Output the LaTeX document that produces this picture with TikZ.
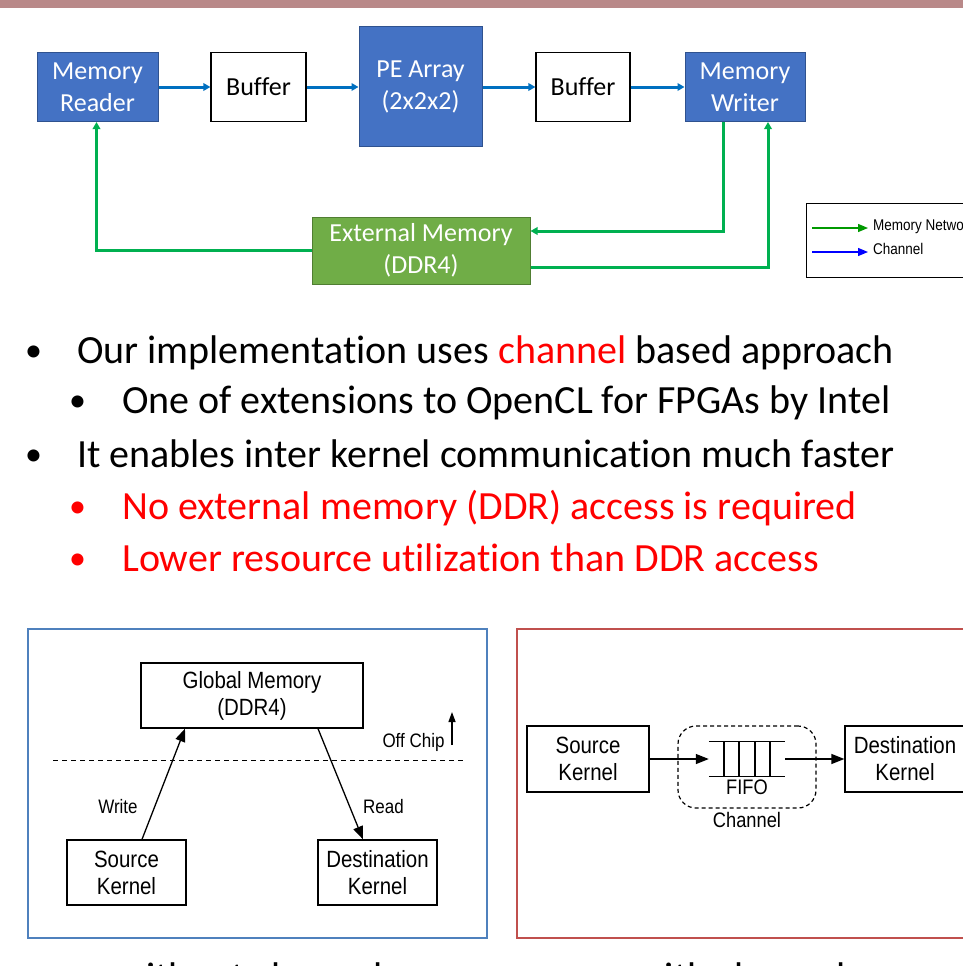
\documentclass[tikz,border=0pt]{standalone}
\usepackage{fontspec}
\setmainfont{Carlito}[Ligatures=NoCommon]
\newfontfamily\dia[FakeStretch=0.87]{Liberation Sans}
\usetikzlibrary{arrows.meta}
\definecolor{barc}{RGB}{185,137,137}
\definecolor{boxblue}{RGB}{68,114,196}
\definecolor{boxblueb}{RGB}{47,82,143}
\definecolor{chblue}{RGB}{0,112,192}
\definecolor{memgreen}{RGB}{0,176,80}
\definecolor{emfill}{RGB}{112,173,71}
\definecolor{emdraw}{RGB}{80,126,50}
\definecolor{leftpanel}{RGB}{79,129,189}
\definecolor{rightpanel}{RGB}{192,80,77}
\definecolor{leggreen}{RGB}{0,153,0}
\definecolor{legblue}{RGB}{0,0,255}
\tikzset{
  topfont/.style={font=\fontsize{26}{32}\selectfont, align=center, inner sep=0pt},
  bluebox/.style={topfont, draw=boxblueb, fill=boxblue, line width=1pt, text=white},
  whitebox/.style={topfont, draw=black, fill=white, line width=1.2pt, text=black},
  greenbox/.style={topfont, draw=emdraw, fill=emfill, line width=1pt, text=white},
  barrow/.style={draw=chblue, line width=3pt, -{Triangle[length=7pt,width=7.5pt]}},
  garrow/.style={draw=memgreen, line width=3pt, -{Triangle[length=7pt,width=7.5pt]}},
  bulletline/.style={anchor=base west, inner sep=0pt, font=\fontsize{40}{48}\selectfont},
  bulletdot/.style={anchor=base west, inner sep=0pt, font=\fontsize{34}{40}\selectfont},
  kbox/.style={draw=black, line width=1.3pt, align=center, inner sep=0pt,
    font=\dia\fontsize{23.5}{27}\selectfont},
  klabel/.style={inner sep=0pt, font=\dia\fontsize{19.5}{23}\selectfont},
  karrow/.style={draw=black, line width=1.3pt, -{Triangle[length=13pt,width=10pt]}},
  legtext/.style={anchor=west, inner sep=0pt, font=\dia\fontsize{15.5}{18}\selectfont},
}
\begin{document}
\begin{tikzpicture}[x=1pt,y=-1pt]
\useasboundingbox (0,0) rectangle (963,966);
\clip (0,0) rectangle (963,966);
\fill[white] (0,0) rectangle (963,966);
\fill[barc] (0,0) rectangle (963,8);

% ---------- top block diagram ----------
\node[bluebox, minimum width=121, minimum height=69] (mr) at (97.5,87) {Memory\\Reader};
\node[whitebox, minimum width=95, minimum height=69] (b1) at (258.5,87) {Buffer};
\node[bluebox, minimum width=123, minimum height=119] (pe) at (420.5,86.5) {PE Array\\(2x2x2)};
\node[whitebox, minimum width=94, minimum height=69] (b2) at (583,87) {Buffer};
\node[bluebox, minimum width=120, minimum height=69] (mw) at (745,87) {Memory\\Writer};
\node[greenbox, minimum width=218, minimum height=67] (em) at (421,250.5) {External Memory\\(DDR4)};

\draw[barrow] (mr.east) -- (b1.west);
\draw[barrow] (b1.east) -- (pe.west |- b1.east);
\draw[barrow] (pe.east |- b2.west) -- (b2.west);
\draw[barrow] (b2.east) -- (mw.west);

\draw[garrow] (em.west) -| ([xshift=-1pt]mr.south);
\draw[garrow] ([xshift=-21.4pt]mw.south) |- ([yshift=19.5pt]em.east);
\draw[garrow] ([yshift=-17pt]em.east) -| ([xshift=23pt]mw.south);

% legend
\draw[line width=1pt] (806,203) rectangle (990,277);
\coordinate (lga) at (812,228);
\coordinate (lgb) at (868,228);
\coordinate (lgc) at (812,252);
\coordinate (lgd) at (868,252);
\draw[leggreen, line width=1.3pt, -{Triangle[length=10pt,width=8pt]}] (lga) -- (lgb);
\draw[legblue, line width=1.3pt, -{Triangle[length=10pt,width=8pt]}] (lgc) -- (lgd);
\node[legtext] (lgt1) at (873,226) {Memory Network};
\node[legtext] (lgt2) at (873,249) {Channel};

% ---------- bullet text ----------
\node[bulletdot] (bu1) at (25,361) {•};
\node[bulletline] (t1) at (77,363) {Our implementation uses \textcolor{red}{channel} based approach};
\node[bulletdot] (bu2) at (69,411) {•};
\node[bulletline] (t2) at (122,413) {One of extensions to OpenCL for FPGAs by Intel};
\node[bulletdot] (bu3) at (25,465) {•};
\node[bulletline] (t3) at (77,467) {It enables inter kernel communication much faster};
\node[bulletdot, text=red] (bu4) at (69,517) {•};
\node[bulletline, text=red] (t4) at (122,519) {No external memory (DDR) access is required};
\node[bulletdot, text=red] (bu5) at (69,569) {•};
\node[bulletline, text=red] (t5) at (122,571) {Lower resource utilization than DDR access};

% ---------- bottom left panel ----------
\draw[leftpanel, line width=2pt] (28,629) rectangle (487,938);
\node[kbox, minimum width=222, minimum height=65] (gm) at (252,695.5) {Global Memory\\(DDR4)};
\node[kbox, minimum width=119, minimum height=65] (sk) at (126.5,872.5) {Source\\Kernel};
\node[kbox, minimum width=119, minimum height=65] (dk) at (377.5,872.5) {Destination\\Kernel};
\draw[black, line width=1pt, dash pattern=on 5pt off 4pt] (53,760) -- (463,760);
\draw[karrow] ([xshift=15.5pt]sk.north) -- ([xshift=-67pt]gm.south);
\draw[karrow] ([xshift=66pt]gm.south) -- ([xshift=-14.5pt]dk.north);
\node[klabel] (wr) at (118,807) {Write};
\node[klabel] (rd) at (383.5,807) {Read};
\node[klabel, anchor=base] (oc) at (413.5,747) {Off Chip};
\coordinate (oca) at (452,745);
\coordinate (ocb) at (452,712);
\draw[black, line width=1.3pt, -{Triangle[length=10pt,width=7pt]}] (oca) -- (ocb);

% ---------- bottom right panel ----------
\draw[rightpanel, line width=2pt] (517,629) rectangle (990,938);
\node[kbox, minimum width=122, minimum height=66] (sk2) at (588,759) {Source\\Kernel};
\node[kbox, minimum width=120, minimum height=66] (dk2) at (905,759) {Destination\\Kernel};
\node[draw=black, line width=1.2pt, dash pattern=on 4pt off 3pt, rounded corners=18pt,
      minimum width=138, minimum height=82] (ch) at (747,767) {};
\node[inner sep=0pt, minimum width=76, minimum height=34] (fifo) at (747,759) {};
\draw[line width=1.2pt] (fifo.north west) -- (fifo.north east);
\draw[line width=1.2pt] (fifo.south west) -- (fifo.south east);
\foreach \xx in {724,739,755,770} {
  \draw[line width=1.2pt] (\xx,742) -- (\xx,776);
}
\draw[karrow] (sk2.east) -- (fifo.west);
\draw[karrow] (fifo.east) -- (dk2.west);
\node[klabel, anchor=base, font=\dia\fontsize{21}{24}\selectfont] (ff) at (747,794) {FIFO};
\node[klabel, anchor=base, font=\dia\fontsize{21}{24}\selectfont] (chl) at (747,827) {Channel};

% ---------- captions (cut off) ----------
\node[bulletline, anchor=base] (cap1) at (250,990) {without channel};
\node[bulletline, anchor=base] (cap2) at (741,990) {with channel};
\end{tikzpicture}
\end{document}
